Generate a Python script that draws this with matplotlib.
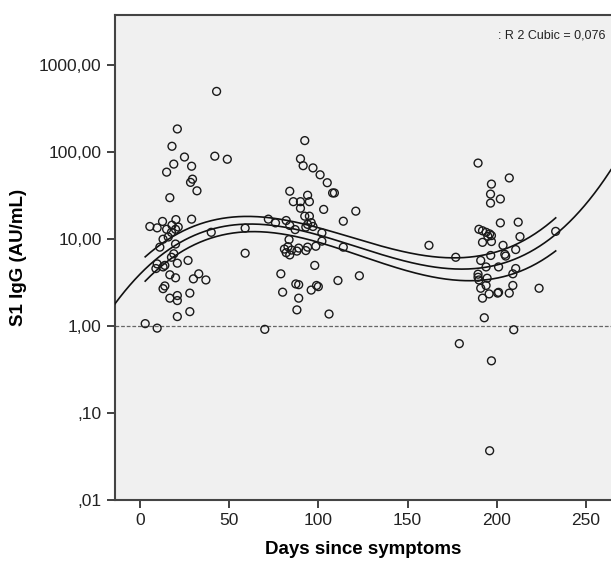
import matplotlib.pyplot as plt
import numpy as np

# 1. DATA
days = [
    # early group
    43, 21, 18, 25, 19, 29, 42, 49, 15, 29.5, 28.4, 32, 16.8, 29, 5.6, 9.7, 12.7,
    20.2, 15, 21.5, 17.7, 15.9, 40, 11.2, 20, 19, 17.7, 9.7, 21, 27, 13, 14, 9,
    16.8, 20, 33, 30, 37, 14, 13, 28, 16.8, 21, 21, 28, 21, 3, 9.7, 18, 20, 13,
    59, 59,
    # ~3 months
    92.4, 90, 91.5, 97, 101, 105, 108, 109, 84, 94, 86, 90, 95, 90, 103, 121,
    92.4, 95, 114, 72, 76, 82, 84, 94, 96, 97, 93, 87, 102, 83.6, 81, 83, 85, 82,
    84, 89, 88, 93, 94, 98.6, 102, 114, 98, 79, 87.4, 89, 99, 100, 96, 111, 123,
    80, 89, 88, 106, 70, 162,
    # ~6 months
    189.5, 207, 197, 196.5, 202, 196.5, 202, 212, 190, 192, 194, 196, 195, 197,
    192, 197, 213, 203.5, 204.5, 205, 210.6, 196.6, 177, 233, 191, 194, 201,
    210.6, 189.5, 189.5, 190, 194.6, 209, 191, 194, 195.7, 200.5, 201, 209, 207,
    192, 223.7, 193, 209.5, 179, 197, 196,
]
igg = [
    500, 185, 117, 88, 73, 69, 90, 83, 59, 49, 45, 36, 30, 17, 14, 13.5, 16,
    16.8, 13, 13.8, 12, 10.6, 12, 8.1, 8.8, 6.8, 6.2, 5.2, 5.3, 5.7, 4.8, 5.0, 4.6,
    3.9, 3.6, 4.0, 3.5, 3.4, 2.9, 2.7, 2.4, 2.1, 2.25, 1.97, 1.47, 1.29, 1.07, 0.95,
    14.5, 13, 10,
    13.4, 6.9,
    136, 84, 70, 66, 55, 44.6, 34, 34, 35.6, 32, 27, 27, 27, 22.7, 22, 21,
    18.4, 18.4, 16.1, 17, 15.4, 16.4, 14.4, 14.8, 15.5, 14, 13.8, 12.9, 11.8, 9.9,
    7.7, 8.2, 7.5, 7.0, 6.6, 7.9, 7.3, 7.4, 8.1, 8.3, 9.5, 8.1, 5.0, 4.0, 3.06, 3.0,
    2.94, 2.85, 2.6, 3.35, 3.8, 2.46, 2.1, 1.54, 1.38, 0.92, 8.5,
    75, 50.6, 43, 33, 29, 26, 15.4, 15.7, 13, 12.5, 12, 11.5, 10.8, 11,
    9.2, 9.4, 10.7, 8.5, 6.7, 6.4, 7.6, 6.5, 6.2, 12.3, 5.7, 4.8, 4.8,
    4.6, 3.96, 3.65, 3.4, 3.56, 4.0, 2.73, 2.94, 2.35, 2.4, 2.45, 2.94, 2.4,
    2.1, 2.73, 1.25, 0.91, 0.63, 0.40, 0.037,
]

# cubic fit in log10(IgG) with t = days/100 (highest power first)
fit_coefs = [0.6259, -2.2761, 2.1022, 0.5966]
# half width of the 95% CI of the mean (log10), same t
ci_coefs = [-0.01194, 0.10022, -0.14897, 0.14409]

ytick_vals = [0.01, 0.1, 1, 10, 100, 1000]
ytick_labels = [',01', ',10', '1,00', '10,00', '100,00', '1000,00']
xtick_vals = [0, 50, 100, 150, 200, 250]
r2_text = ': R 2 Cubic = 0,076'

# 2. FIT CURVES
xs_full = np.linspace(-14, 264, 300)
xs_band = np.linspace(min(days), max(days), 300)
fit_full = np.polyval(fit_coefs, xs_full / 100)
fit_band = np.polyval(fit_coefs, xs_band / 100)
half = np.polyval(ci_coefs, xs_band / 100)

# 3. PLOT
plt.rcParams['font.family'] = ['Liberation Sans', 'DejaVu Sans']
fig = plt.figure(figsize=(6.11, 5.62), dpi=100)
ax = fig.add_axes([0.188, 0.110, 0.812, 0.863])
ax.set_facecolor('#f0f0f0')

ax.axhline(1, color='#666666', linestyle=(0, (3, 1.5)), linewidth=0.9, zorder=1)
ax.plot(xs_full, 10 ** fit_full, color='#111111', linewidth=1.2, zorder=3)
ax.plot(xs_band, 10 ** (fit_band + half), color='#111111', linewidth=1.2, zorder=3)
ax.plot(xs_band, 10 ** (fit_band - half), color='#111111', linewidth=1.2, zorder=3)
ax.scatter(days, igg, s=32, facecolors='none', edgecolors='#1a1a1a', linewidths=1.0, zorder=4)

# 4. FORMATTING
ax.set_yscale('log')
ax.set_xlim(-14, 264)
ax.set_ylim(0.01, 3760)
ax.set_yticks(ytick_vals)
ax.set_yticklabels(ytick_labels)
ax.yaxis.set_minor_locator(plt.NullLocator())
ax.set_xticks(xtick_vals)
ax.tick_params(axis='both', labelsize=12.5, colors='#333333', length=6, width=1.3)
ax.tick_params(axis='both', labelcolor='#222222')

for side in ['left', 'bottom', 'top']:
    ax.spines[side].set_color('#444444')
    ax.spines[side].set_linewidth(1.5)
ax.spines['right'].set_visible(False)

ax.set_xlabel('Days since symptoms', fontsize=13.5, fontweight='bold', labelpad=9)
ax.set_ylabel('S1 IgG (AU/mL)', fontsize=13.5, fontweight='bold')
ax.yaxis.set_label_coords(-0.178, 0.5)

ax.text(0.988, 0.958, r2_text, transform=ax.transAxes, ha='right', va='center',
        fontsize=9, color='#222222')

plt.savefig('out.png', dpi=100)
